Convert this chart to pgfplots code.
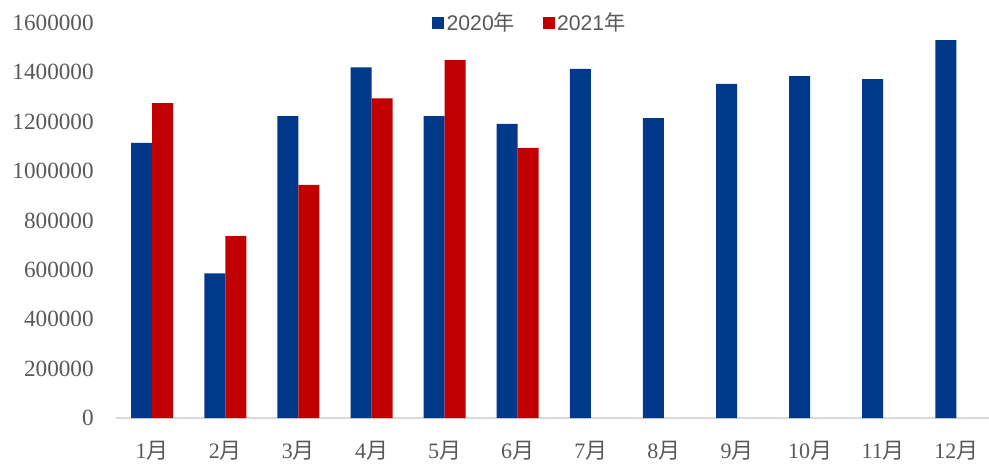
\documentclass[border=0pt]{standalone}
\usepackage{fontspec}
\setmainfont{Liberation Serif}
\newfontfamily\cjk{Noto Sans CJK SC}
\newfontfamily\legfont{Liberation Sans}
\usepackage{pgfplots}
\pgfplotsset{compat=1.18}
\definecolor{bblue}{RGB}{0,57,137}
\definecolor{rred}{RGB}{192,0,0}
\definecolor{txtgray}{RGB}{89,89,89}
\definecolor{axgray}{RGB}{217,217,217}
\begin{document}
\begin{tikzpicture}
\begin{axis}[
    scale only axis,
    width=436.75pt, height=197.5pt,
    xmin=0.5, xmax=12.45,
    ymin=0, ymax=1600000,
    ytick={0,200000,400000,600000,800000,1000000,1200000,1400000,1600000},
    xtick={1,2,3,4,5,6,7,8,9,10,11,12},
    xticklabels={1{\cjk 月},2{\cjk 月},3{\cjk 月},4{\cjk 月},5{\cjk 月},6{\cjk 月},
                 7{\cjk 月},8{\cjk 月},9{\cjk 月},10{\cjk 月},11{\cjk 月},12{\cjk 月}},
    axis lines*=left,
    y axis line style={draw=none},
    x axis line style={draw=axgray, line width=0.6pt},
    tick style={draw=none},
    scaled y ticks=false,
    yticklabel style={/pgf/number format/fixed, /pgf/number format/1000 sep={},
        /pgf/number format/assume math mode=true,
        font=\fontsize{11.6}{13}\selectfont, text=txtgray, inner sep=0pt, xshift=-10.8pt},
    xticklabel style={font=\fontsize{11}{13}\selectfont, text=txtgray,
        inner sep=0pt, yshift=-7pt},
    ybar=0pt, bar width=10.5pt,
    legend columns=2,
    legend style={at={(0.4743,1)}, anchor=center, draw=none, fill=none,
        font=\legfont\fontsize{10.6}{12}\selectfont, text=txtgray,
        /tikz/every even column/.append style={column sep=12.5pt},
        inner sep=0pt, nodes={inner sep=1.25pt}},
    legend image code/.code={\fill[#1] (0pt,-3pt) rectangle (6pt,3pt);},
]
\addplot[fill=bblue, draw=none] coordinates {
    (1,1114000) (2,586000) (3,1223000) (4,1420000) (5,1223000) (6,1191000)
    (7,1414000) (8,1215000) (9,1353000) (10,1385000) (11,1373000) (12,1531000)
};
\addplot[fill=rred, draw=none] coordinates {
    (1,1275000) (2,737000) (3,944000) (4,1295000) (5,1450000) (6,1094000)
};
\addlegendentry{2020{\cjk 年}}
\addlegendentry{2021{\cjk 年}}
\end{axis}
\pgfresetboundingbox
\path (-57.85pt,-24.5pt) rectangle (436.65pt,209pt);
\end{tikzpicture}
\end{document}
